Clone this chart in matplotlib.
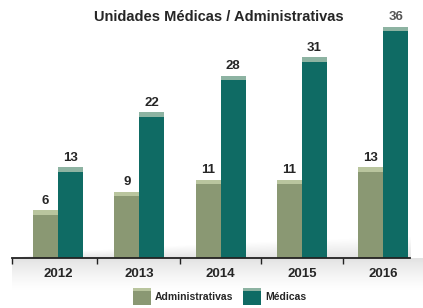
import numpy as np
import matplotlib
matplotlib.use("Agg")
import matplotlib.pyplot as plt
from matplotlib.patches import Rectangle

plt.rcParams['font.family'] = ['Liberation Sans', 'DejaVu Sans']

years = ["2012", "2013", "2014", "2015", "2016"]
administrativas = [6, 9, 11, 11, 13]
medicas = [13, 22, 28, 31, 36]
title = "Unidades Médicas / Administrativas"
legend_labels = ["Administrativas", "Médicas"]

C_ADM = "#8A9873"
C_ADM_CAP = "#B9C59E"
C_MED = "#0F6B64"
C_MED_CAP = "#8DB3A2"
TXT = "#262626"

W, H = 423, 308
fig = plt.figure(figsize=(W / 100, H / 100), dpi=100)
fig.patch.set_facecolor("white")

# decorative floor shading (pixel-space background)
img = np.ones((H, W, 4))
img[..., :3] = 0.72
img[..., 3] = 0.0
yy, xx = np.mgrid[0:H, 0:W]
base = 258
below = (yy >= base) & (yy < base + 32) & (xx >= 12)
t = 1 - (yy - base) / 32.0
img[..., 3] = np.where(below, 0.4 * t ** 1.3, img[..., 3])
hx = np.clip((xx - 14) / (400 - 14), 0, 1) ** 0.6 * 22
above = (yy < base) & (yy > base - hx) & (xx >= 14) & (xx <= 410)
ta = 1 - (base - yy) / np.maximum(hx, 1)
img[..., 3] = np.where(above, 0.4 * ta, img[..., 3])
fig.figimage(img, 0, 0, origin="upper", zorder=0)

left_px, right_px = 12, 410
ax = fig.add_axes([left_px / W, (H - base) / H, (right_px - left_px) / W, (base - 18) / H])
ax.set_zorder(1)
ax.patch.set_visible(False)

BASE = -1.8
x = np.arange(len(years))
bw = 0.308
adm = np.array(administrativas, dtype=float)
med = np.array(medicas, dtype=float)
cap = 0.75

ax.bar(x - bw / 2, adm - BASE, bw, bottom=BASE, color=C_ADM, linewidth=0)
ax.bar(x + bw / 2, med - BASE, bw, bottom=BASE, color=C_MED, linewidth=0)
ax.bar(x - bw / 2, cap, bw, bottom=adm - cap, color=C_ADM_CAP, linewidth=0)
ax.bar(x + bw / 2, cap, bw, bottom=med - cap, color=C_MED_CAP, linewidth=0)

for i in range(len(years)):
    ax.annotate(f"{administrativas[i]}", (x[i] - bw / 2, adm[i]), xytext=(0, 2.5),
                textcoords="offset points", ha="center", va="bottom",
                fontsize=9.5, fontweight="bold", color=TXT, annotation_clip=False)
    ax.annotate(f"{medicas[i]}", (x[i] + bw / 2, med[i]), xytext=(0, 2.5),
                textcoords="offset points", ha="center", va="bottom",
                fontsize=9.5, fontweight="bold",
                color="#555555" if i == len(years) - 1 else TXT, annotation_clip=False)

ax.set_xlim(-0.566, 4.33)
ax.set_ylim(BASE, 37.4)
ax.set_yticks([])
for s in ["top", "right", "left"]:
    ax.spines[s].set_visible(False)
ax.spines["bottom"].set_color("#222222")
ax.spines["bottom"].set_linewidth(1.3)
ax.set_xticks(x)
ax.set_xticklabels(years, fontsize=9.5, fontweight="bold", color=TXT)
ax.tick_params(axis="x", which="major", length=0, pad=7)
ax.set_xticks([-0.566, 0.48, 1.5, 2.5, 3.5], minor=True)
ax.tick_params(axis="x", which="minor", length=4, width=1, color="#222222", direction="out")

fig.text(219 / W, 1 - 17 / H, title, ha="center", va="center",
         fontsize=10.5, fontweight="bold", color=TXT)

# legend
for (px, lab, c, cc) in [(133, legend_labels[0], C_ADM, C_ADM_CAP),
                         (243, legend_labels[1], C_MED, C_MED_CAP)]:
    fig.add_artist(Rectangle((px / W, 1 - 305 / H), 18 / W, 17 / H,
                             transform=fig.transFigure, color=c, lw=0))
    fig.add_artist(Rectangle((px / W, 1 - 291 / H), 18 / W, 3 / H,
                             transform=fig.transFigure, color=cc, lw=0))
    fig.text((px + 22) / W, 1 - 297 / H, lab, ha="left", va="center",
             fontsize=7.5, fontweight="bold", color=TXT)

fig.savefig("out.png", dpi=100, facecolor="white")
